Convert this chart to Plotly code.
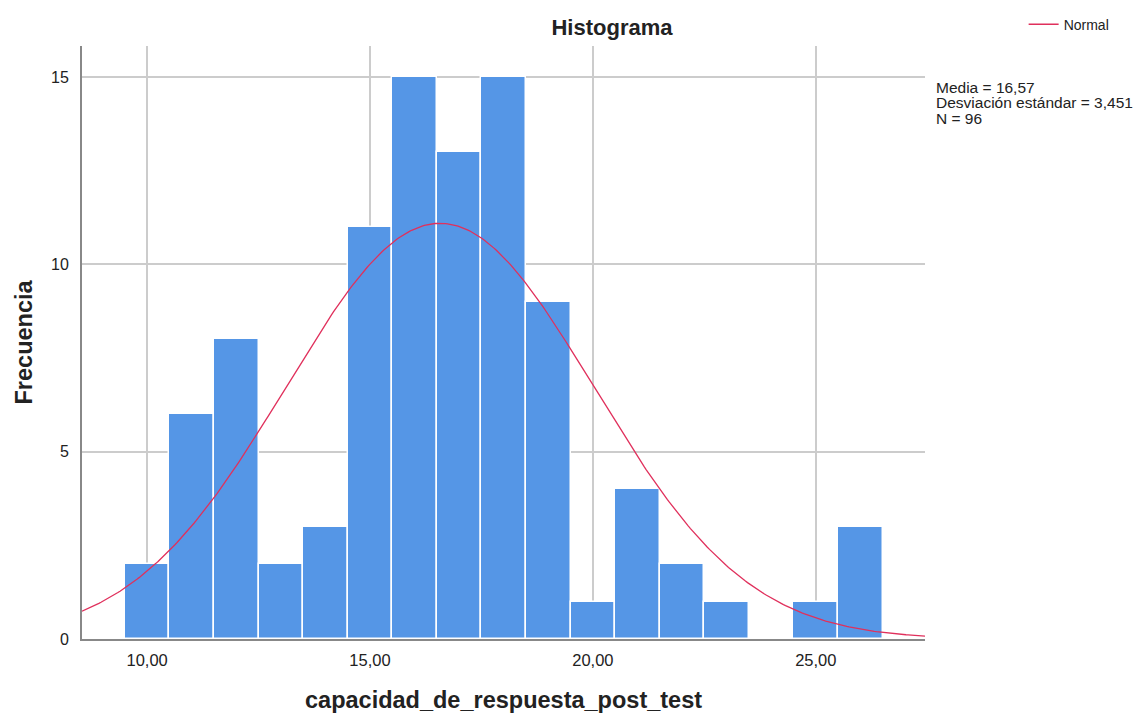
import numpy as np
import plotly.graph_objects as go

# Frequencies per unit bin (centres 10..26)
bin_centers = [10, 11, 12, 13, 14, 15, 16, 17, 18, 19, 20, 21, 22, 23, 24, 25, 26]
frequencies = [2, 6, 8, 2, 3, 11, 15, 13, 15, 9, 1, 4, 2, 1, 0, 1, 3]

# Summary statistics
media = 16.57
desviacion = 3.451
n_total = 96
bin_width = 1.0

x_ticks = [10, 15, 20, 25]
x_tick_labels = ["10,00", "15,00", "20,00", "25,00"]
y_ticks = [0, 5, 10, 15]

x_range = [8.54, 27.45]
y_range = [0, 15.83]

# Normal curve scaled to counts
xs = np.linspace(x_range[0], x_range[1], 400)
ys = n_total * bin_width / (desviacion * np.sqrt(2 * np.pi)) * np.exp(-0.5 * ((xs - media) / desviacion) ** 2)

FONT = "Liberation Sans, Arial, sans-serif"
TXT = "#222222"
W, H = 1147, 713
L, R, T, B = 82, 222, 46, 74
PW, PH = W - L - R, H - T - B

fig = go.Figure()
fig.add_trace(go.Bar(
    x=bin_centers, y=frequencies, width=bin_width,
    marker=dict(color="#5596E6", line=dict(color="#ffffff", width=1.5)),
    showlegend=False, hoverinfo="x+y",
))
fig.add_trace(go.Scatter(
    x=xs, y=ys, mode="lines", name="Normal",
    line=dict(color="#E0305C", width=1.3),
))

fig.update_layout(
    width=W, height=H,
    margin=dict(l=L, r=R, t=T, b=B, autoexpand=False),
    paper_bgcolor="white", plot_bgcolor="white",
    font=dict(family=FONT, color=TXT),
    title=dict(text="<b>Histograma</b>", x=612 / W, xanchor="center",
               y=1 - 27 / H, yanchor="middle", font=dict(size=22, color=TXT)),
    bargap=0,
    legend=dict(x=1.117, y=1.036, xanchor="left", yanchor="middle",
                font=dict(size=14, color=TXT), bgcolor="rgba(0,0,0,0)",
                itemwidth=30, tracegroupgap=0),
    xaxis=dict(
        range=x_range, tickmode="array", tickvals=x_ticks, ticktext=x_tick_labels,
        showgrid=True, gridcolor="#cccccc", gridwidth=1.5,
        showline=True, linecolor="#888888", linewidth=2, ticks="", zeroline=False,
        tickfont=dict(size=16.5, color=TXT), ticklabelstandoff=5, automargin=False,
    ),
    yaxis=dict(
        range=y_range, tickmode="array", tickvals=y_ticks,
        showgrid=True, gridcolor="#cccccc", gridwidth=1.5,
        showline=True, linecolor="#888888", linewidth=2, ticks="", zeroline=False,
        tickfont=dict(size=16, color=TXT), ticklabelstandoff=8, automargin=False,
    ),
)

# Axis titles
fig.add_annotation(
    xref="paper", yref="paper", x=0.5, y=-(700 - (T + PH)) / PH,
    xanchor="center", yanchor="middle", showarrow=False,
    text="<b>capacidad_de_respuesta_post_test</b>", font=dict(size=23.5, color=TXT),
)
fig.add_annotation(
    xref="paper", yref="paper", x=-(L - 23) / PW, y=0.5, textangle=-90,
    xanchor="center", yanchor="middle", showarrow=False,
    text="<b>Frecuencia</b>", font=dict(size=23.5, color=TXT),
)

# Summary statistics box, one line per annotation
stat_lines = [
    f"Media = {media:.2f}".replace(".", ","),
    f"Desviación estándar = {desviacion:.3f}".replace(".", ","),
    f"N = {n_total}",
]
for i, line in enumerate(stat_lines):
    fig.add_annotation(
        xref="paper", yref="paper", x=(934 - L) / PW, y=(T + PH - 87 - 16 * i) / PH,
        xanchor="left", yanchor="middle", align="left", showarrow=False,
        text=line, font=dict(size=15.5, color=TXT),
    )

fig.write_html("out.html")
